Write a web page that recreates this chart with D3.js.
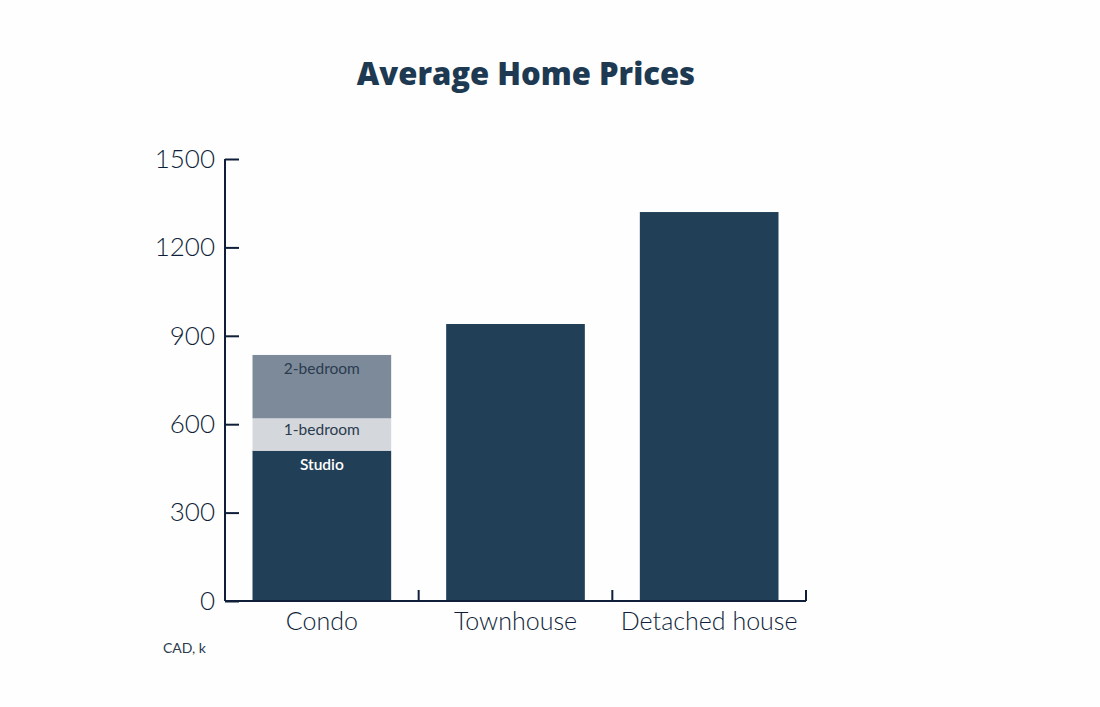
<!DOCTYPE html>
<html>
<head>
<meta charset="utf-8">
<script src="https://cdn.jsdelivr.net/npm/d3@7"></script>
<style>
    body { margin: 0; background: #fefefe; }
    svg { display: block; }
    .tick text { font-family: Lato, sans-serif; }
</style>
</head>
<body>
<div id="chart"></div>
<script>
// Data
const categories = ['Condo', 'Townhouse', 'Detached house'];
const condoSegments = ['Studio', '1-bedroom', '2-bedroom'];
const condoValues = [510, 110, 215];
const otherValues = [null, 940, 1320];
const yTicks = [0, 300, 600, 900, 1200, 1500];

const segColors = { 'Studio': '#223f58', '1-bedroom': '#d4d7dc', '2-bedroom': '#7d8a9a' };
const segText = { 'Studio': '#ffffff', '1-bedroom': '#2a3b4e', '2-bedroom': '#2a3b4e' };

const width = 1100, height = 707;
const margin = { top: 159, right: 294, bottom: 106, left: 225 };

const svg = d3.select('#chart').append('svg')
    .attr('width', width)
    .attr('height', height);

svg.append('text')
    .attr('x', 526)
    .attr('y', 85)
    .attr('text-anchor', 'middle')
    .attr('font-family', '"Open Sans", sans-serif')
    .attr('font-weight', 800)
    .attr('font-size', 31)
    .attr('fill', '#1d3a52')
    .text('Average Home Prices');

const x = d3.scaleBand()
    .domain(categories)
    .range([margin.left, width - margin.right])
    .paddingInner(0.284)
    .paddingOuter(0.142);

const y = d3.scaleLinear()
    .domain([0, 1500])
    .range([height - margin.bottom, margin.top]);

// stacked condo bar
let acc = 0;
const stack = condoSegments.map((s, i) => {
    const d = { key: s, y0: acc, y1: acc + condoValues[i] };
    acc += condoValues[i];
    return d;
});

const barColor = '#223f58';

svg.append('g')
    .selectAll('rect')
    .data(stack)
    .join('rect')
    .attr('x', x('Condo'))
    .attr('y', d => y(d.y1))
    .attr('width', x.bandwidth())
    .attr('height', d => y(d.y0) - y(d.y1))
    .attr('fill', d => segColors[d.key]);

svg.append('g')
    .selectAll('text')
    .data(stack)
    .join('text')
    .attr('x', x('Condo') + x.bandwidth() / 2)
    .attr('y', d => y(d.y1) + (d.key === '1-bedroom' ? 17 : 19))
    .attr('text-anchor', 'middle')
    .attr('font-family', 'Lato, sans-serif')
    .attr('font-size', 15.5)
    .attr('font-weight', d => d.key === 'Studio' ? 600 : 400)
    .attr('fill', d => segText[d.key])
    .text(d => d.key);

const others = categories.map((c, i) => ({ cat: c, value: otherValues[i] })).filter(d => d.value != null);

svg.append('g')
    .selectAll('rect')
    .data(others)
    .join('rect')
    .attr('x', d => x(d.cat))
    .attr('y', d => y(d.value))
    .attr('width', x.bandwidth())
    .attr('height', d => y(0) - y(d.value))
    .attr('fill', barColor);

const axisColor = '#0f1f3a';

// y axis, ticks point inward
const yAxis = svg.append('g')
    .attr('transform', `translate(${margin.left},0)`)
    .call(d3.axisRight(y).tickValues(yTicks).tickFormat(d3.format('d')).tickSize(14));
yAxis.select('.domain').attr('stroke', axisColor).attr('stroke-width', 2).attr('d', `M0,${y(1500)}V${y(0)}`);
yAxis.selectAll('.tick line').attr('stroke', axisColor).attr('stroke-width', 2);
yAxis.selectAll('.tick text')
    .attr('x', -10)
    .attr('text-anchor', 'end')
    .attr('font-size', 26)
    .attr('font-weight', 300)
    .attr('fill', axisColor);

// x axis labels
const xAxis = svg.append('g')
    .attr('transform', `translate(0,${y(0)})`)
    .call(d3.axisBottom(x).tickSize(0).tickPadding(11));
xAxis.select('.domain').attr('stroke', axisColor).attr('stroke-width', 2)
    .attr('d', `M${margin.left},0H${width - margin.right}`);
xAxis.selectAll('.tick text')
    .attr('font-size', 25)
    .attr('font-weight', 300)
    .attr('fill', axisColor);

// boundary ticks on x axis
const step = x.step();
svg.append('g')
    .selectAll('line')
    .data(categories)
    .join('line')
    .attr('x1', d => x(d) - x.paddingOuter() * step + step)
    .attr('x2', d => x(d) - x.paddingOuter() * step + step)
    .attr('y1', y(0))
    .attr('y2', y(0) - 11)
    .attr('stroke', axisColor)
    .attr('stroke-width', 2);

svg.append('text')
    .attr('x', 163)
    .attr('y', 653)
    .attr('font-family', 'Lato, sans-serif')
    .attr('font-size', 14)
    .attr('fill', '#2a3b4e')
    .text('CAD, k');
</script>
</body>
</html>
